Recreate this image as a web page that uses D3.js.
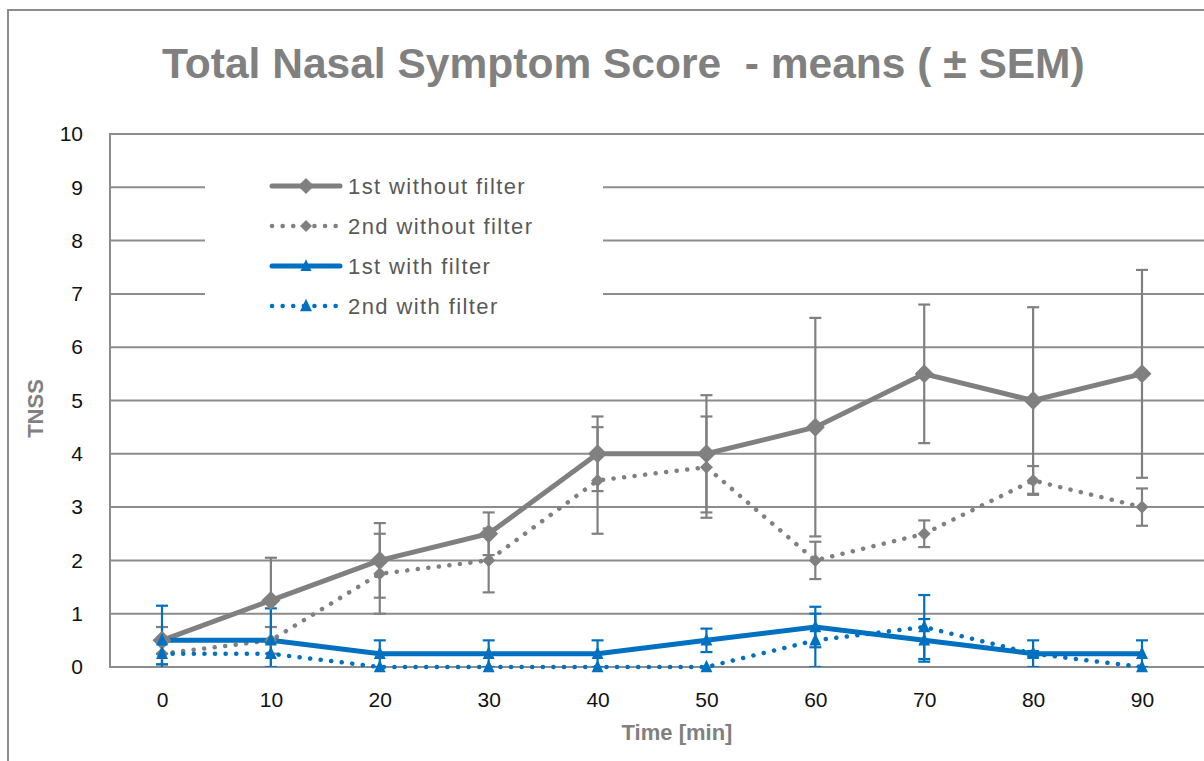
<!DOCTYPE html>
<html>
<head>
<meta charset="utf-8">
<script src="https://cdn.jsdelivr.net/npm/d3@7"></script>
<style>
  body { margin: 0; background: #fff; }
  svg { display: block; }
  text { font-family: "Liberation Sans", Arial, sans-serif; white-space: pre; }
</style>
</head>
<body>
<svg id="chart" width="1204" height="761"></svg>
<script>
// ---- data ----
const times = [0, 10, 20, 30, 40, 50, 60, 70, 80, 90];
const yTicks = [0, 1, 2, 3, 4, 5, 6, 7, 8, 9, 10];

const firstWithout  = [0.5, 1.25, 2.0, 2.5, 4.0, 4.0, 4.5, 5.5, 5.0, 5.5];
const firstWithoutE = [0.25, 0.8, 0.7, 0.4, 0.7, 1.1, 2.05, 1.3, 1.75, 1.95];
const secondWithout  = [0.25, 0.5, 1.75, 2.0, 3.5, 3.75, 2.0, 2.5, 3.5, 3.0];
const secondWithoutE = [0.2, 0.25, 0.75, 0.6, 1.0, 0.95, 0.35, 0.25, 0.27, 0.35];
const firstWith  = [0.5, 0.5, 0.25, 0.25, 0.25, 0.5, 0.75, 0.5, 0.25, 0.25];
const firstWithE = [0.65, 0.6, 0.25, 0.25, 0.25, 0.22, 0.38, 0.4, 0.25, 0.25];
const secondWith  = [0.25, 0.25, 0, 0, 0, 0, 0.5, 0.75, 0.25, 0];
const secondWithE = [0.2, 0.25, 0, 0, 0, 0, 0.5, 0.6, 0.05, 0];

const seriesNames = ["1st without filter", "2nd without filter", "1st with filter", "2nd with filter"];

const GRAY = "#808080", BLUE = "#0070C0";

const series = [
  { name: seriesNames[0], vals: firstWithout, err: firstWithoutE, color: GRAY, dotted: false, shape: "diamond", size: 19, legSize: 16 },
  { name: seriesNames[1], vals: secondWithout, err: secondWithoutE, color: GRAY, dotted: true, shape: "diamond", size: 13, legSize: 12 },
  { name: seriesNames[2], vals: firstWith, err: firstWithE, color: BLUE, dotted: false, shape: "triangle", size: 14, legSize: 13 },
  { name: seriesNames[3], vals: secondWith, err: secondWithE, color: BLUE, dotted: true, shape: "triangle", size: 14, legSize: 14 }
];

const svg = d3.select("#chart");
const plot = { left: 110, right: 1204, top: 134, bottom: 667 };

const x = d3.scalePoint().domain(times).range([162, 1142]);
const y = d3.scaleLinear().domain([0, 10]).range([plot.bottom, plot.top]);

// outer chart border (only top and left visible)
svg.append("path")
  .attr("d", "M8,761 L8,10 L1204,10")
  .attr("fill", "none").attr("stroke", "#8c8c8c").attr("stroke-width", 2);

// title, fitted to the reference width
const title = svg.append("text")
  .attr("x", 162).attr("y", 78)
  .attr("font-weight", "bold").attr("font-size", 40)
  .attr("fill", GRAY)
  .text("Total Nasal Symptom Score  - means ( \u00B1 SEM)");
const tw = title.node().getComputedTextLength();
title.attr("font-size", 40 * 923 / tw);

// gridlines
svg.append("g").selectAll("line").data(yTicks).join("line")
  .attr("x1", plot.left).attr("x2", plot.right)
  .attr("y1", d => y(d)).attr("y2", d => y(d))
  .attr("stroke", "#8c8c8c").attr("stroke-width", 2);
// left axis line
svg.append("line")
  .attr("x1", plot.left).attr("x2", plot.left)
  .attr("y1", plot.top - 1).attr("y2", plot.bottom + 1)
  .attr("stroke", "#8c8c8c").attr("stroke-width", 2);

// y axis labels
const yAxis = svg.append("g").attr("transform", `translate(${plot.left - 27},0)`)
  .call(d3.axisLeft(y).tickValues(yTicks).tickSize(0).tickPadding(0));
yAxis.select(".domain").remove();
yAxis.selectAll("text").attr("font-size", 21).attr("fill", "#111")
  .attr("font-family", "Liberation Sans, Arial, sans-serif");

// x axis labels
const xAxis = svg.append("g").attr("transform", `translate(0,${plot.bottom + 25})`)
  .call(d3.axisBottom(x).tickSize(0).tickPadding(0));
xAxis.select(".domain").remove();
xAxis.selectAll("text").attr("font-size", 21).attr("fill", "#111")
  .attr("font-family", "Liberation Sans, Arial, sans-serif");

// axis titles
svg.append("text")
  .attr("transform", `translate(43,${(plot.top + plot.bottom) / 2 + 8}) rotate(-90)`)
  .attr("text-anchor", "middle").attr("font-weight", "bold").attr("font-size", 22)
  .attr("fill", GRAY).text("TNSS");
svg.append("text")
  .attr("x", 677).attr("y", 740)
  .attr("text-anchor", "middle").attr("font-weight", "bold").attr("font-size", 22)
  .attr("fill", GRAY).text("Time [min]");

// legend background hides gridlines
svg.append("rect")
  .attr("x", 205).attr("y", 162).attr("width", 398).attr("height", 160)
  .attr("fill", "#fff");

svg.append("clipPath").attr("id", "plotclip")
  .append("rect").attr("x", plot.left).attr("y", plot.top)
  .attr("width", plot.right - plot.left).attr("height", plot.bottom - plot.top);

function markerPath(shape, s) {
  const h = s / 2;
  if (shape === "diamond") {
    return `M0,${-h} L${h},0 L0,${h} L${-h},0 Z`;
  }
  return `M0,${-h * 1.05} L${h * 0.85},${h * 0.75} L${-h * 0.85},${h * 0.75} Z`;
}

const line = d3.line().x(d => x(d.t)).y(d => y(d.v));

const barsLayer = svg.append("g").attr("clip-path", "url(#plotclip)");
const linesLayer = svg.append("g");
const markersLayer = svg.append("g");

series.forEach(s => {
  const pts = times.map((t, i) => ({ t, v: s.vals[i], e: s.err[i] }));

  // error bars
  const eb = barsLayer.append("g").attr("stroke", s.color).attr("stroke-width", 2.2);
  pts.filter(p => p.e > 0).forEach(p => {
    const cx = x(p.t), y1 = y(p.v + p.e), y0 = y(p.v - p.e);
    eb.append("line").attr("x1", cx).attr("x2", cx).attr("y1", y1).attr("y2", y0);
    eb.append("line").attr("x1", cx - 6).attr("x2", cx + 6).attr("y1", y1).attr("y2", y1);
    eb.append("line").attr("x1", cx - 6).attr("x2", cx + 6).attr("y1", y0).attr("y2", y0);
  });

  linesLayer.append("path").datum(pts)
    .attr("d", line).attr("fill", "none")
    .attr("stroke", s.color)
    .attr("stroke-width", s.dotted ? 4.5 : 5)
    .attr("stroke-linecap", "round")
    .attr("stroke-dasharray", s.dotted ? "0.1 10.5" : null);

  markersLayer.append("g").selectAll("path").data(pts).join("path")
    .attr("transform", p => `translate(${x(p.t)},${y(p.v)})`)
    .attr("d", markerPath(s.shape, s.size))
    .attr("fill", s.color);
});

// legend
const legend = svg.append("g");
series.forEach((s, i) => {
  const ly = 186 + i * 40;
  legend.append("line")
    .attr("x1", 272).attr("x2", 340).attr("y1", ly).attr("y2", ly)
    .attr("stroke", s.color)
    .attr("stroke-width", s.dotted ? 4.5 : 5)
    .attr("stroke-linecap", "round")
    .attr("stroke-dasharray", s.dotted ? "0.1 10.5" : null);
  legend.append("path")
    .attr("transform", `translate(306,${ly})`)
    .attr("d", markerPath(s.shape, s.legSize))
    .attr("fill", s.color);
  legend.append("text")
    .attr("x", 348).attr("y", ly + 8)
    .attr("font-size", 22).attr("letter-spacing", 1.4).attr("fill", "#595959")
    .text(s.name);
});
</script>
</body>
</html>
